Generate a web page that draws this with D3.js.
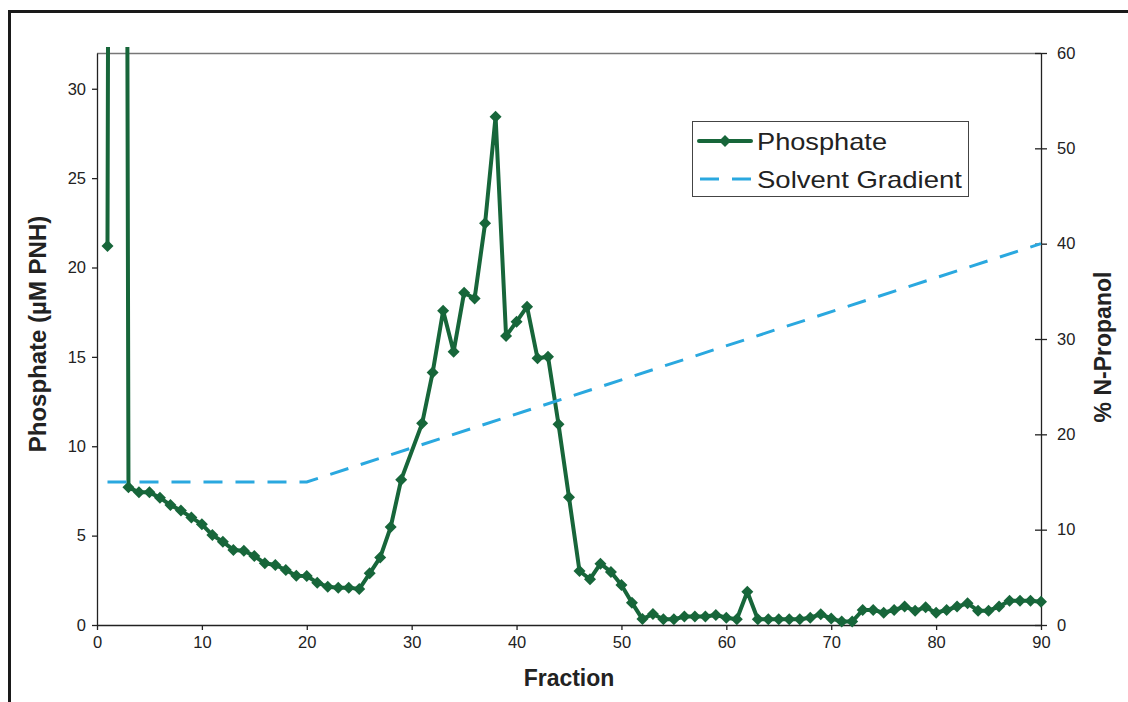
<!DOCTYPE html>
<html>
<head>
<meta charset="utf-8">
<script src="https://cdn.jsdelivr.net/npm/d3@7/dist/d3.min.js"></script>
<style>
    body { margin: 0; background: #fff; }
    svg { display: block; font-family: "Liberation Sans", Arial, sans-serif; }
    .tick text { font-size: 16.5px; fill: #222; }
</style>
</head>
<body>
<div id="chart"></div>
<script>
// phosphate readings per fraction (fraction 30 was not measured, fraction 2 runs off the scale)
const fractions = [1, 2, 3, 4, 5, 6, 7, 8, 9, 10, 11, 12, 13, 14, 15, 16, 17, 18, 19, 20,
    21, 22, 23, 24, 25, 26, 27, 28, 29, 31, 32, 33, 34, 35, 36, 37, 38, 39, 40,
    41, 42, 43, 44, 45, 46, 47, 48, 49, 50, 51, 52, 53, 54, 55, 56, 57, 58, 59, 60,
    61, 62, 63, 64, 65, 66, 67, 68, 69, 70, 71, 72, 73, 74, 75, 76, 77, 78, 79, 80,
    81, 82, 83, 84, 85, 86, 87, 88, 89, 90];
const phosphate = [21.2, 250, 7.70, 7.42, 7.42, 7.12, 6.71, 6.40, 6.02, 5.63, 5.03, 4.66, 4.20, 4.16, 3.86, 3.45, 3.36, 3.08, 2.76, 2.74,
    2.37, 2.14, 2.09, 2.09, 2.01, 2.89, 3.78, 5.48, 8.13, 11.28, 14.12, 17.58, 15.29, 18.59, 18.27, 22.47, 28.44, 16.17, 16.97,
    17.81, 14.92, 15.01, 11.23, 7.14, 3.02, 2.56, 3.43, 2.97, 2.24, 1.25, 0.33, 0.62, 0.32, 0.32, 0.47, 0.47, 0.47, 0.56, 0.41,
    0.32, 1.86, 0.32, 0.32, 0.32, 0.32, 0.32, 0.41, 0.60, 0.37, 0.19, 0.19, 0.84, 0.84, 0.69, 0.84, 1.03, 0.80, 0.99, 0.69,
    0.84, 1.03, 1.21, 0.80, 0.80, 1.03, 1.36, 1.36, 1.36, 1.30];

// solvent gradient (% N-propanol)
const gradientFractions = [1, 20, 90];
const gradientPercent = [15, 15, 40];

const xTicks = [0, 10, 20, 30, 40, 50, 60, 70, 80, 90];
const yLeftTicks = [0, 5, 10, 15, 20, 25, 30];
const yRightTicks = [0, 10, 20, 30, 40, 50, 60];

const GREEN = "#17663a";
const BLUE = "#2aa8df";

let graph = {
    width: 1128,
    height: 702,
    left: 97, right: 1041, top: 53, bottom: 625
};

let svg = d3.select("#chart").append("svg")
    .attr("width", graph.width)
    .attr("height", graph.height);

// outer frame (only top and left edges visible)
svg.append("path")
    .attr("d", "M9.5,1000V11.5H1200")
    .attr("fill", "none")
    .attr("stroke", "#1a1a1a")
    .attr("stroke-width", 3);

let x = d3.scaleLinear().domain([0, 90]).range([graph.left, graph.right]);
let yL = d3.scaleLinear().domain([0, 32]).range([graph.bottom, graph.top]);
let yR = d3.scaleLinear().domain([0, 60]).range([graph.bottom, graph.top]);

// plot top border
svg.append("line")
    .attr("x1", graph.left).attr("x2", graph.right)
    .attr("y1", graph.top + 0.5).attr("y2", graph.top + 0.5)
    .attr("stroke", "#777").attr("stroke-width", 1.5);

// axes
let gx = svg.append("g").attr("class", "x-axis")
    .attr("transform", "translate(0," + graph.bottom + ")")
    .call(d3.axisBottom(x).tickValues(xTicks).tickSize(5).tickSizeOuter(0).tickPadding(6));

let gl = svg.append("g").attr("class", "y-axis")
    .attr("transform", "translate(" + graph.left + ",0)")
    .call(d3.axisLeft(yL).tickValues(yLeftTicks).tickSize(5).tickSizeOuter(0).tickPadding(6));

let gr = svg.append("g").attr("class", "y-axis-right")
    .attr("transform", "translate(" + graph.right + ",0)")
    .call(d3.axisRight(yR).tickValues(yRightTicks).tickSize(6).tickSizeOuter(0).tickPadding(10));
gr.selectAll(".tick line").attr("x1", -6);

svg.selectAll(".domain, .tick line").attr("stroke", "#222").attr("stroke-width", 1.3);

// clip for data (Excel lets the line poke a bit above the plot)
svg.append("clipPath").attr("id", "clip")
    .append("rect")
    .attr("x", graph.left).attr("y", graph.top - 6)
    .attr("width", graph.right - graph.left + 10)
    .attr("height", graph.bottom - graph.top + 20);

let plot = svg.append("g").attr("clip-path", "url(#clip)");

let phosphateData = fractions.map(function (f, i) {
    return {f: f, v: phosphate[i]};
});
let gradientData = gradientFractions.map(function (f, i) {
    return {f: f, v: gradientPercent[i]};
});

let phosLine = d3.line()
    .x(function (d) { return x(d.f); })
    .y(function (d) { return yL(d.v); });

plot.append("path")
    .datum(phosphateData)
    .attr("d", phosLine)
    .attr("fill", "none")
    .attr("stroke", GREEN)
    .attr("stroke-width", 4)
    .attr("stroke-linejoin", "round");

const diamond = "M0,-6L6,0L0,6L-6,0Z";

plot.selectAll(".marker")
    .data(phosphateData)
    .enter().append("path")
    .attr("class", "marker")
    .attr("d", diamond)
    .attr("transform", function (d) {
        return "translate(" + x(d.f) + "," + yL(d.v) + ")";
    })
    .attr("fill", GREEN);

let gradLine = d3.line()
    .x(function (d) { return x(d.f); })
    .y(function (d) { return yR(d.v); });

plot.append("path")
    .datum(gradientData)
    .attr("d", gradLine)
    .attr("fill", "none")
    .attr("stroke", BLUE)
    .attr("stroke-width", 3)
    .attr("stroke-dasharray", "19,13");

// axis titles
svg.append("text")
    .attr("x", 569).attr("y", 686)
    .attr("text-anchor", "middle")
    .attr("font-size", 23).attr("font-weight", "bold").attr("fill", "#222")
    .text("Fraction");

svg.append("text")
    .attr("transform", "translate(46,334) rotate(-90)")
    .attr("text-anchor", "middle")
    .attr("font-size", 24).attr("font-weight", "bold").attr("fill", "#222")
    .text("Phosphate (µM PNH)");

svg.append("text")
    .attr("transform", "translate(1111,347) rotate(-90)")
    .attr("text-anchor", "middle")
    .attr("font-size", 23).attr("font-weight", "bold").attr("fill", "#222")
    .text("% N-Propanol");

// legend
let legend = svg.append("g").attr("class", "legend");
legend.append("rect")
    .attr("x", 692.5).attr("y", 121.5)
    .attr("width", 276).attr("height", 75)
    .attr("fill", "#fff").attr("stroke", "#444").attr("stroke-width", 1);

legend.append("line")
    .attr("x1", 699).attr("x2", 751).attr("y1", 141).attr("y2", 141)
    .attr("stroke", GREEN).attr("stroke-width", 4).attr("stroke-linecap", "round");
legend.append("path")
    .attr("d", diamond)
    .attr("transform", "translate(725,141)")
    .attr("fill", GREEN);
legend.append("text")
    .attr("x", 757).attr("y", 150)
    .attr("font-size", 24).attr("fill", "#222")
    .attr("textLength", 130).attr("lengthAdjust", "spacingAndGlyphs")
    .text("Phosphate");

legend.append("line")
    .attr("x1", 700).attr("x2", 752).attr("y1", 179).attr("y2", 179)
    .attr("stroke", BLUE).attr("stroke-width", 3).attr("stroke-dasharray", "19,13");
legend.append("text")
    .attr("x", 757).attr("y", 188)
    .attr("font-size", 24).attr("fill", "#222")
    .attr("textLength", 205).attr("lengthAdjust", "spacingAndGlyphs")
    .text("Solvent Gradient");
</script>
</body>
</html>
